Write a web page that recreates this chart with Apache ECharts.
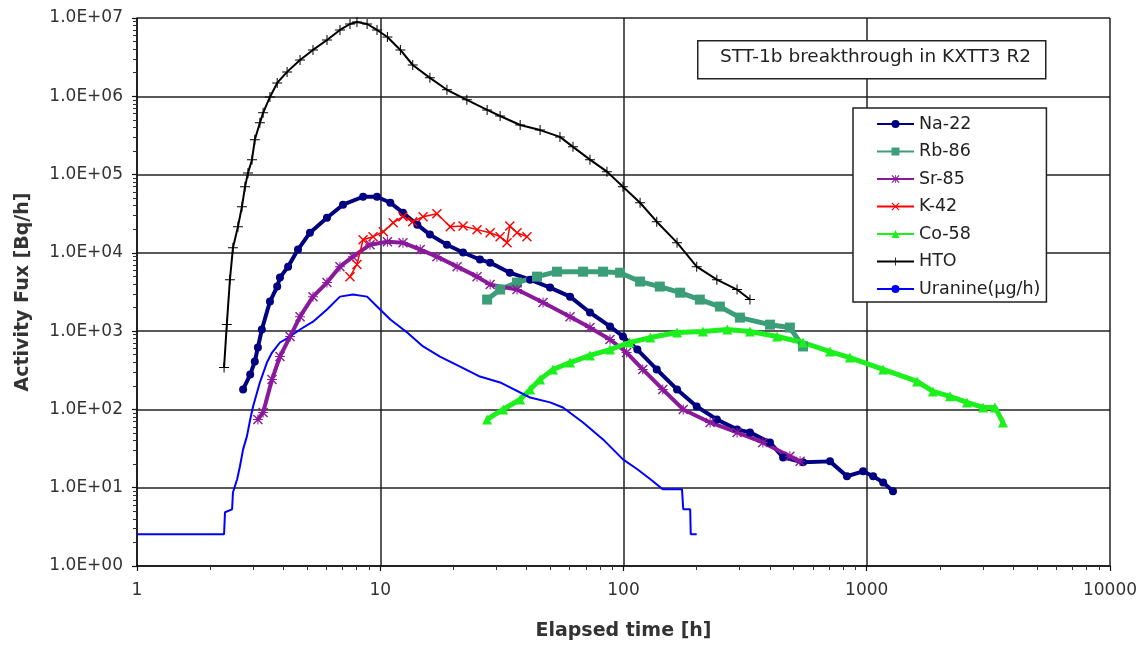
<!DOCTYPE html>
<html>
<head>
<meta charset="utf-8">
<script src="https://cdn.jsdelivr.net/npm/echarts@6/dist/echarts.min.js"></script>
<style>
html,body{margin:0;padding:0;background:#fff;}
#chart{width:1146px;height:646px;}
</style>
</head>
<body>
<div id="chart"></div>
<script>
// ---- data: [elapsed time h, activity flux] ----
const xTickValues = [1, 10, 100, 1000, 10000];
const yTickValues = [1, 10, 100, 1000, 1e4, 1e5, 1e6, 1e7];

const na22 = [[2.73,180],[2.92,279],[3.05,409],[3.14,618],[3.26,1050],[3.52,2390],[3.77,3710],[3.87,4830],
 [4.18,6670],[4.59,11000],[5.14,18100],[6.04,28100],[7.03,41200],[8.5,52100],[9.7,52100],[11.0,43700],
 [12.4,32600],[14.2,22900],[16.0,17100],[18.8,12700],[21.9,10100],[25.7,8200],[28.3,7500],[34.1,5580],
 [41.3,4550],[49.9,3600],[60.3,2760],[72.8,1730],[88.0,1150],[99.5,853],[114,582],[137,324],[166,180],
 [200,109],[242,74.5],[293,55.6],[331,50.9],[400,37.9],[453,24.4],[547,21.1],[706,21.7],[829,14.0],
 [966,16.2],[1062,14.0],[1168,11.7],[1282,9.0]];

const rb86 = [[27.5,2530],[31.1,3400],[36.5,4170],[44.1,4970],[53.3,5750],[68.2,5750],[82.4,5750],
 [96.8,5580],[117,4300],[141,3710],[171,3100],[206,2530],[249,2060],[301,1490],[400,1210],[483,1110],[547,637]];

const sr85 = [[3.14,74.5],[3.3,91.6],[3.59,242],[3.87,474],[4.26,853],[4.68,1530],[5.29,2760],[6.04,4170],
 [6.83,6670],[7.72,8950],[9.08,12700],[10.7,13900],[12.4,13500],[14.6,11000],[17.1,8950],[20.7,6670],
 [25.0,4970],[28.3,3930],[36.5,3400],[46.7,2320],[60.3,1530],[72.8,1110],[88.0,782],[103,533],[120,324],
 [145,180],[176,100],[227,68.2],[293,50.9],[374,37.9],[483,25.2],[532,21.7]];

const k42 = [[7.51,4970],[8.02,7100],[8.5,14700],[9.34,16100],[10.3,18600],[11.3,24300],[12.4,29000],
 [13.6,25000],[15.0,29000],[17.1,31600],[19.4,21600],[21.9,22000],[25.0,19800],[28.3,18100],[31.1,16100],
 [33.2,13500],[34.1,22000],[36.5,18100],[40.1,16100]];

const co58 = [[27.5,74.5],[32.0,100],[37.6,134],[41.3,180],[45.4,242],[51.3,324],[60.3,397],[72.8,489],
 [88.0,582],[106,716],[129,828],[166,959],[212,988],[267,1050],[331,988],[428,853],[547,716],[706,549],
 [853,460],[1168,324],[1611,228],[1871,170],[2198,147],[2582,123],[3006,106],[3367,106],[3630,68.2]];

const hto = [[2.28,344],[2.34,1214],[2.41,4550],[2.48,11600],[2.6,21600],[2.7,38800],[2.78,69800],
 [2.86,105000],[2.97,155000],[3.05,278000],[3.2,458000],[3.3,614000],[3.52,980000],[3.77,1480000],
 [4.14,2050000],[4.68,2910000],[5.29,3910000],[6.04,5240000],[6.83,7030000],[7.51,8380000],[8.02,8900000],
 [8.83,8380000],[9.7,7030000],[10.7,5720000],[12.1,3910000],[13.6,2510000],[16.0,1720000],[18.8,1210000],
 [22.7,900000],[27.5,670000],[31.1,560000],[37.6,430000],[45.4,370000],[54.8,303000],[62.0,226000],
 [72.8,155000],[85.5,109000],[99.5,69800],[117,43700],[137,25000],[166,13500],[200,6670],[242,4550],
 [293,3400],[331,2530]];

const uranine = [[1,2.55],[2.28,2.55],[2.3,4.86],[2.46,5.3],[2.48,8.7],[2.58,12.8],[2.65,18.8],[2.73,30.9],
 [2.83,45.3],[2.92,74.5],[3.0,109],[3.2,221],[3.42,397],[3.59,533],[3.87,716],[4.26,853],[4.68,1050],
 [5.29,1320],[6.04,1890],[6.83,2760],[7.72,2930],[8.83,2760],[9.7,2060],[11.0,1410],[12.9,959],[15.0,637],
 [17.6,474],[21.3,353],[25.7,263],[31.1,221],[41.3,142],[49.9,123],[56.4,106],[68.2,68.2],[82.4,41.4],
 [99.5,23.0],[114,17.2],[129,12.8],[145,9.55],[174,9.55],[176,5.3],[188,5.3],[189,2.55],[200,2.55]];

const seriesNames = ['Na-22','Rb-86','Sr-85','K-42','Co-58','HTO','Uranine(µg/h)'];
const chartTitle = 'STT-1b breakthrough in KXTT3 R2';
const xName = 'Elapsed time [h]';
const yName = 'Activity Fux [Bq/h]';

// ---- symbols ----
const plusPath = 'path://M4.5,0h1v10h-1z M0,4.5h10v1h-10z';
const xPath = 'path://M0,1L1,0L10,9L9,10Z M9,0L10,1L1,10L0,9Z';
const starPath = 'path://M4.5,0h1v10h-1z M0,4.5h10v1h-10z M0,1L1,0L10,9L9,10Z M9,0L10,1L1,10L0,9Z';

const FONT = 'DejaVu Sans';

function mk(name, data, color, symbol, size, lw) {
  return {
    name, type: 'line', data, symbol, symbolSize: size, showSymbol: symbol !== 'none',
    showAllSymbol: true, color,
    lineStyle: {color, width: lw},
    itemStyle: {color, borderWidth: 0},
    emphasis: {disabled: true},
    z: 2
  };
}

const chart = echarts.init(document.getElementById('chart'), null, {renderer: 'canvas'});
chart.setOption({
  animation: false,
  backgroundColor: '#fff',
  grid: {left: 137, right: 36, top: 18, bottom: 79},
  xAxis: {
    type: 'log', logBase: 10, min: 1, max: 10000,
    name: xName, nameLocation: 'middle', nameGap: 56,
    nameTextStyle: {fontFamily: FONT, fontSize: 19, fontWeight: 'bold', color: '#333'},
    axisLine: {show: true, lineStyle: {color: '#111', width: 1.5}},
    axisTick: {show: true, length: 5, inside: false, lineStyle: {color: '#111', width: 1.2}},
    minorTick: {show: true, splitNumber: 9, length: 4, lineStyle: {color: '#333', width: 1}},
    axisLabel: {fontFamily: FONT, fontSize: 17, color: '#333', margin: 16,
      formatter: v => String(Math.round(v))},
    splitLine: {show: true, lineStyle: {color: '#222', width: 1.5}}
  },
  yAxis: {
    type: 'log', logBase: 10, min: 1, max: 1e7,
    name: yName, nameLocation: 'middle', nameGap: 104, nameRotate: 90,
    nameTextStyle: {fontFamily: FONT, fontSize: 19, fontWeight: 'bold', color: '#333'},
    axisLine: {show: true, lineStyle: {color: '#111', width: 1.5}},
    axisTick: {show: true, length: 5, inside: false, lineStyle: {color: '#111', width: 1.2}},
    minorTick: {show: true, splitNumber: 9, length: 4, lineStyle: {color: '#333', width: 1}},
    axisLabel: {fontFamily: FONT, fontSize: 17, color: '#333', margin: 14,
      formatter: v => '1.0E+' + String(Math.round(Math.log10(v))).padStart(2, '0')},
    splitLine: {show: true, lineStyle: {color: '#222', width: 1.5}}
  },
  legend: {
    orient: 'vertical', left: 853, top: 108,
    padding: [7, 6, 4, 23],
    itemWidth: 37, itemHeight: 10, itemGap: 9.5,
    backgroundColor: '#fff', borderColor: '#222', borderWidth: 1.5,
    textStyle: {fontFamily: FONT, fontSize: 17.5, color: '#222', lineHeight: 18},
    data: seriesNames
  },
  graphic: [
    {type: 'rect', left: 697, top: 40, z: 10,
     shape: {width: 348, height: 38},
     style: {fill: '#fff', stroke: '#222', lineWidth: 1.5}},
    {type: 'text', left: 720, top: 48, z: 11,
     style: {text: chartTitle, font: '18.5px "DejaVu Sans"', fill: '#222'}}
  ],
  series: [
    mk(seriesNames[0], na22, '#000080', 'circle', 8, 4),
    mk(seriesNames[1], rb86, '#3c9e78', 'rect', 10, 5),
    mk(seriesNames[2], sr85, '#8a1a9b', starPath, 10, 4),
    mk(seriesNames[3], k42, '#ff0000', xPath, 10, 1.5),
    mk(seriesNames[4], co58, '#1cf01c', 'triangle', 10, 5),
    mk(seriesNames[5], hto, '#000000', plusPath, 10, 2),
    mk(seriesNames[6], uranine, '#0000ff', 'none', 4, 2)
  ]
});
</script>
</body>
</html>
